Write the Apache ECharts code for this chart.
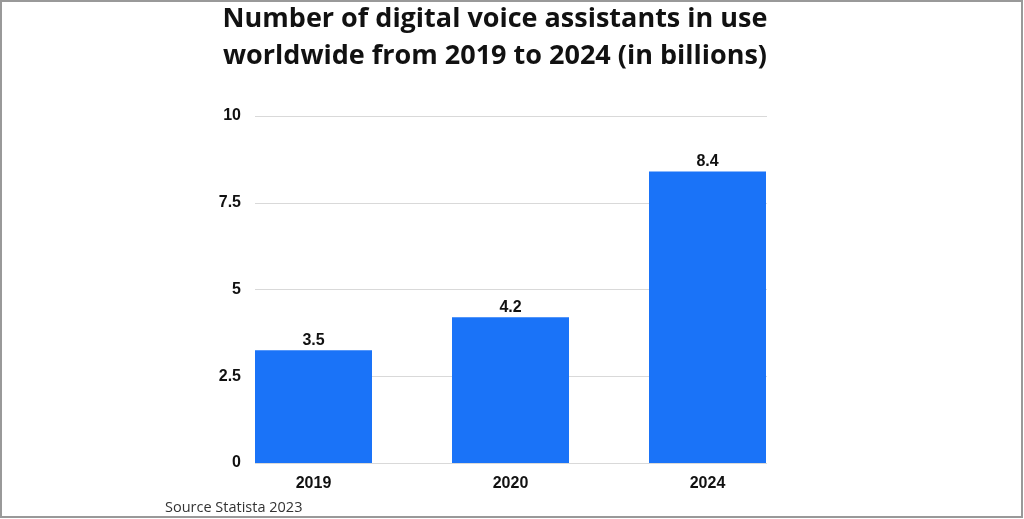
<!DOCTYPE html>
<html><head><meta charset="utf-8">
<script src="https://cdn.jsdelivr.net/npm/echarts@6/dist/echarts.min.js"></script>
<style>html,body{margin:0;padding:0;background:#fff}#c{width:1024px;height:519px}</style>
</head><body><div id="c"></div>
<script>
const categories = ['2019', '2020', '2024'];
const values = [3.25, 4.2, 8.4];
const valueLabels = ['3.5', '4.2', '8.4'];
const yTicks = [0, 2.5, 5, 7.5, 10];
const titleText = 'Number of digital voice assistants in use\nworldwide from 2019 to 2024 (in billions)';
const sourceText = 'Source Statista 2023';

const chart = echarts.init(document.getElementById('c'), null, {renderer: 'canvas'});
chart.setOption({
  backgroundColor: '#fff',
  animation: false,
  title: {
    text: titleText, left: 490, top: -4, textAlign: 'center',
    textStyle: {fontFamily: 'Open Sans', fontWeight: 'bold', fontSize: 27, lineHeight: 37, color: '#111'}
  },
  graphic: [
    {type: 'rect', shape: {x: 1, y: 1, width: 1021, height: 516}, style: {fill: 'none', stroke: '#999', lineWidth: 2}, silent: true},
    {type: 'text', left: 165, top: 500, style: {text: sourceText, font: '14.5px "Open Sans"', fill: '#333'}}
  ],
  grid: [
    {left: 215, right: 218, top: 116, bottom: 56},
    {left: 255, right: 257, top: 116, bottom: 56}
  ],
  xAxis: [
    {type: 'category', gridIndex: 0, data: categories,
     axisLine: {show: false}, axisTick: {show: false},
     axisLabel: {margin: 13, fontFamily: 'Liberation Sans', fontWeight: 'bold', fontSize: 16, color: '#111'}},
    {type: 'value', gridIndex: 1, show: false, min: 0, max: 1}
  ],
  yAxis: [
    {type: 'value', gridIndex: 0, min: 0, max: 10, show: false},
    {type: 'value', gridIndex: 1, min: 0, max: 10, interval: 2.5,
     axisLine: {show: false}, axisTick: {show: false},
     splitLine: {lineStyle: {color: '#d9d9d9', width: 1}},
     axisLabel: {margin: 14, fontFamily: 'Liberation Sans', fontWeight: 'bold', fontSize: 16, color: '#111',
       formatter: v => yTicks.includes(v) ? String(v) : ''}}
  ],
  series: [{
    type: 'bar', xAxisIndex: 0, yAxisIndex: 0, data: values,
    barWidth: 117, z: 3,
    itemStyle: {color: '#1a73f8'},
    label: {show: true, position: 'top', distance: 2,
      formatter: p => valueLabels[p.dataIndex],
      fontFamily: 'Liberation Sans', fontWeight: 'bold', fontSize: 16, color: '#111'}
  }]
});
</script></body></html>
